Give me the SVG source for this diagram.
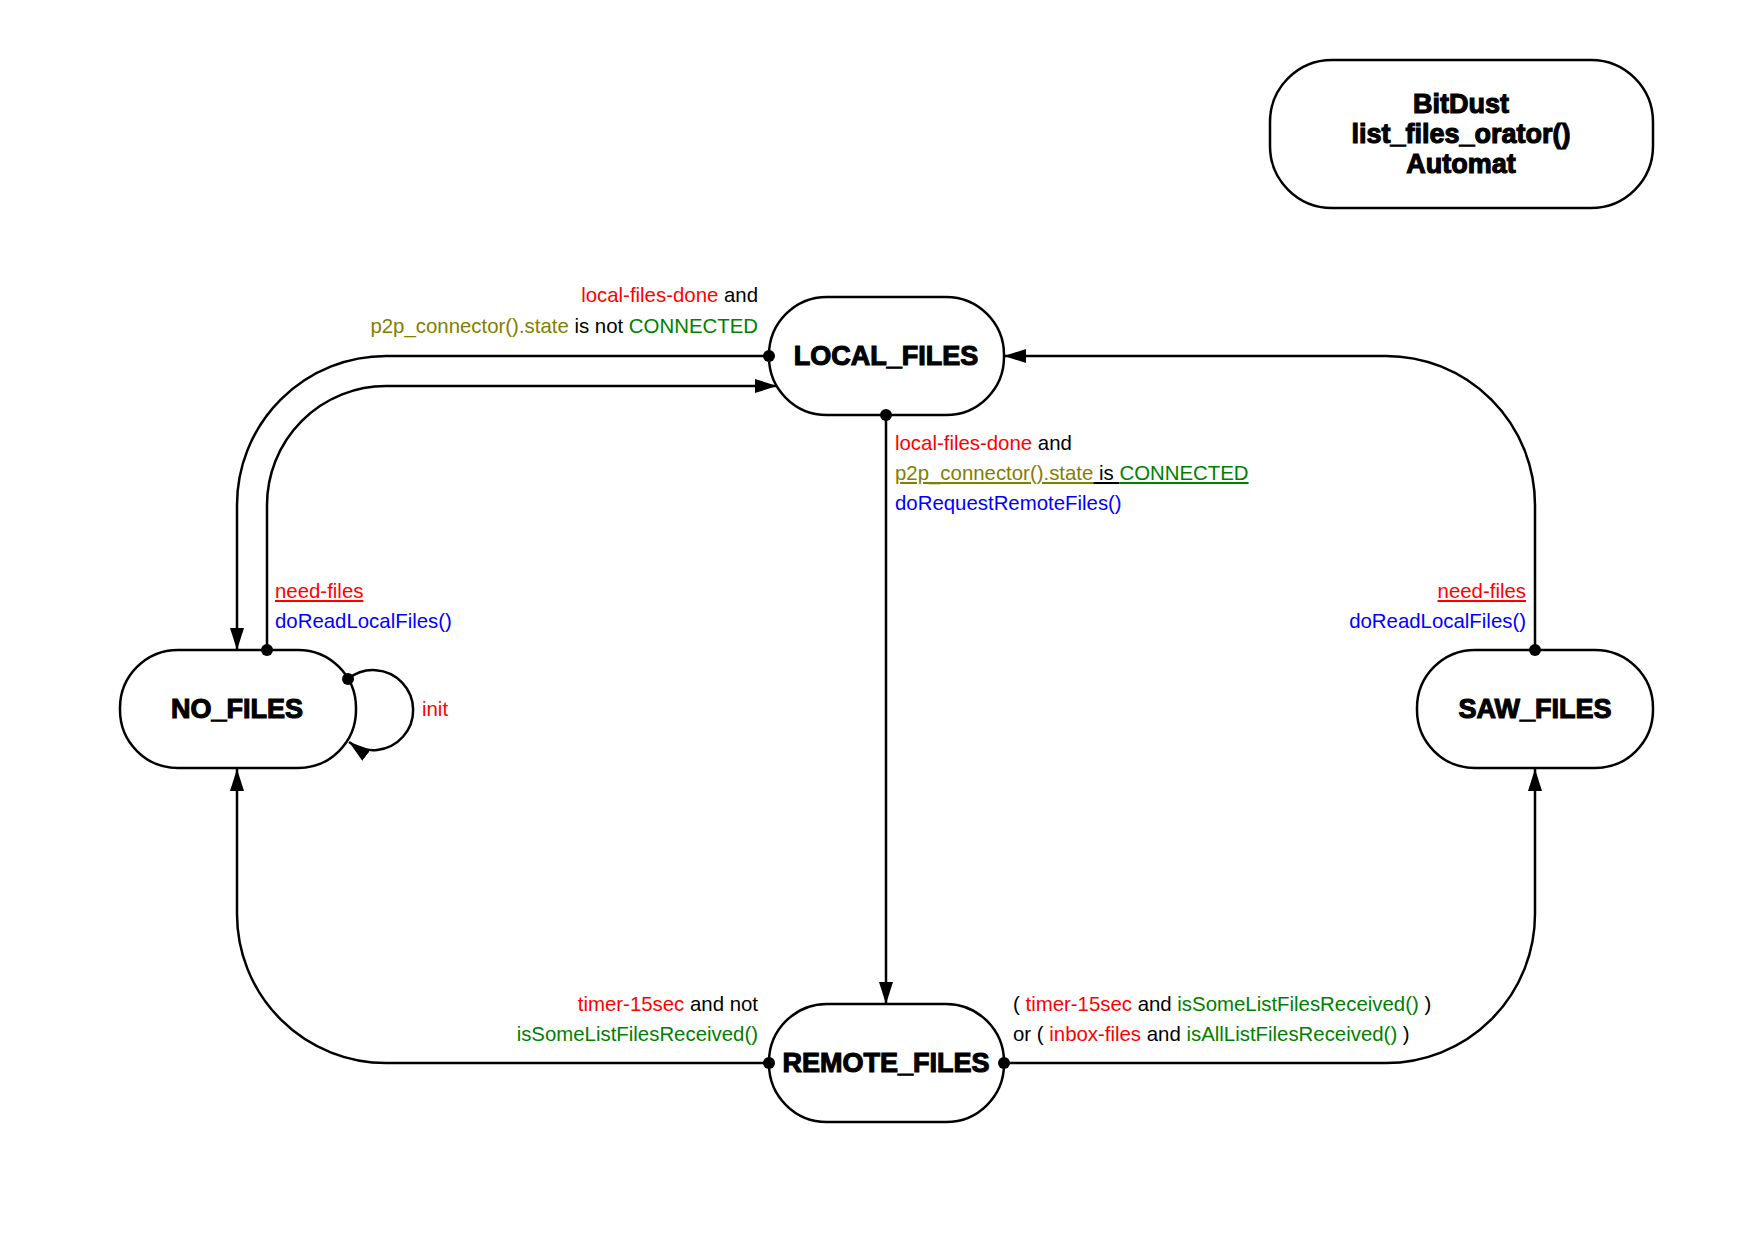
<svg xmlns="http://www.w3.org/2000/svg" width="1755" height="1242" viewBox="0 0 1755 1242">
<style>
.node{fill:#fff;stroke:#000;stroke-width:2.5}
.nl{font-family:"Liberation Sans",Arial,sans-serif;font-weight:bold;font-size:27px;fill:#000;stroke:#000;stroke-width:1.1;text-anchor:middle}
.edge{fill:none;stroke:#000;stroke-width:2.5}
.dot{fill:#000}
.lbl{font-family:"Liberation Sans",Arial,sans-serif;font-size:20.4px;fill:#000}
.r{fill:#ff0000}.g{fill:#008000}.o{fill:#808000}.b{fill:#0000ff}.k{fill:#000}
.u{text-decoration:underline}
.end{text-anchor:end}
</style>
<defs>
<marker id="arrow" markerUnits="userSpaceOnUse" markerWidth="24" markerHeight="16" refX="22" refY="7" orient="auto">
<path d="M0,0 L22,7 L0,14 Z" fill="#000"/>
</marker>
</defs>
<rect width="1755" height="1242" fill="#fff"/>
<g id="title">
<rect class="node" x="1270" y="60" width="383" height="148" rx="62" ry="62"/>
<text class="nl" x="1461" y="113">BitDust</text>
<text class="nl" x="1461" y="143">list_files_orator()</text>
<text class="nl" x="1461" y="173">Automat</text>
</g>
<g id="LOCAL_FILES">
<rect class="node" x="769" y="297" width="235" height="118" rx="58" ry="58"/>
<text class="nl" x="886" y="365">LOCAL_FILES</text>
</g>
<g id="REMOTE_FILES">
<rect class="node" x="769" y="1004" width="235" height="118" rx="58" ry="58"/>
<text class="nl" x="886" y="1072">REMOTE_FILES</text>
</g>
<g id="NO_FILES">
<rect class="node" x="120" y="650" width="236" height="118" rx="58" ry="58"/>
<text class="nl" x="237" y="718">NO_FILES</text>
</g>
<g id="SAW_FILES">
<rect class="node" x="1417" y="650" width="236" height="118" rx="58" ry="58"/>
<text class="nl" x="1535" y="718">SAW_FILES</text>
</g>
<g id="connectors">
<path class="edge" d="M769,356 H386 A149,149 0 0 0 237,505 V650" marker-end="url(#arrow)"/>
<path class="edge" d="M267,650 V505 A119,119 0 0 1 386,386 H777" marker-end="url(#arrow)"/>
<path class="edge" d="M886,415 V1004" marker-end="url(#arrow)"/>
<path class="edge" d="M1535,650 V505 A149,149 0 0 0 1386,356 H1004" marker-end="url(#arrow)"/>
<path class="edge" d="M769,1063 H386 A149,149 0 0 1 237,914 V769" marker-end="url(#arrow)"/>
<path class="edge" d="M1004,1063 H1386 A149,149 0 0 0 1535,914 V769" marker-end="url(#arrow)"/>
<path class="edge" d="M348,679 A40,40 0 1 1 349,742" marker-end="url(#arrow)"/>
<circle class="dot" cx="769" cy="356" r="6"/>
<circle class="dot" cx="267" cy="650" r="6"/>
<circle class="dot" cx="886" cy="415" r="6"/>
<circle class="dot" cx="1535" cy="650" r="6"/>
<circle class="dot" cx="769" cy="1063" r="6"/>
<circle class="dot" cx="1004" cy="1063" r="6"/>
<circle class="dot" cx="348" cy="679" r="6"/>
<text class="lbl end" x="758" y="302"><tspan class="r">local-files-done</tspan><tspan class="k"> and</tspan></text>
<text class="lbl end" x="758" y="333"><tspan class="o">p2p_connector().state</tspan><tspan class="k"> is not </tspan><tspan class="g">CONNECTED</tspan></text>
<text class="lbl" x="895" y="450"><tspan class="r">local-files-done</tspan><tspan class="k"> and</tspan></text>
<text class="lbl" x="895" y="480"><tspan class="o u">p2p_connector().state</tspan><tspan class="k u"> is </tspan><tspan class="g u">CONNECTED</tspan></text>
<text class="lbl b" x="895" y="510">doRequestRemoteFiles()</text>
<text class="lbl r u" x="275" y="598">need-files</text>
<text class="lbl b" x="275" y="628">doReadLocalFiles()</text>
<text class="lbl r u end" x="1526" y="598">need-files</text>
<text class="lbl b end" x="1526" y="628">doReadLocalFiles()</text>
<text class="lbl r" x="422" y="716">init</text>
<text class="lbl end" x="758" y="1011"><tspan class="r">timer-15sec</tspan><tspan class="k"> and not</tspan></text>
<text class="lbl g end" x="758" y="1041">isSomeListFilesReceived()</text>
<text class="lbl" x="1013" y="1011"><tspan class="k">( </tspan><tspan class="r">timer-15sec</tspan><tspan class="k"> and </tspan><tspan class="g">isSomeListFilesReceived()</tspan><tspan class="k"> )</tspan></text>
<text class="lbl" x="1013" y="1041"><tspan class="k">or ( </tspan><tspan class="r">inbox-files</tspan><tspan class="k"> and </tspan><tspan class="g">isAllListFilesReceived()</tspan><tspan class="k"> )</tspan></text>
</g>
</svg>
